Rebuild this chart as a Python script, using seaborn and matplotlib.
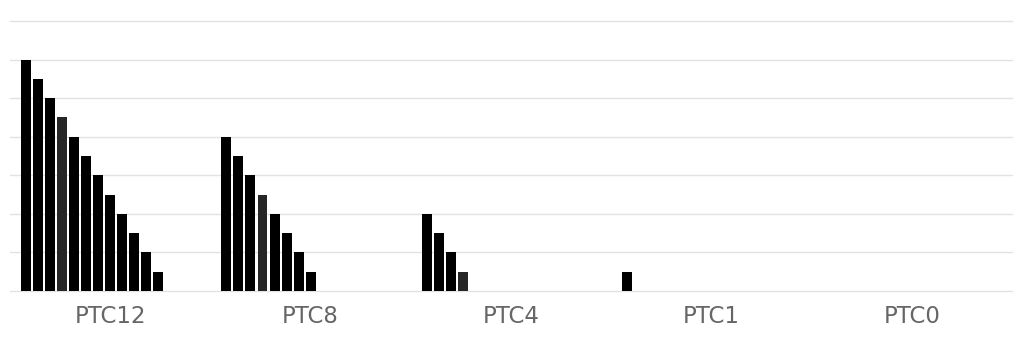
import matplotlib
matplotlib.use("Agg")
import matplotlib.pyplot as plt
import seaborn as sns
import pandas as pd

groups = ["PTC12", "PTC8", "PTC4", "PTC1", "PTC0"]
series = [f"S{i}" for i in range(1, 16)]
ptc12_values = [12, 11, 10, 9, 8, 7, 6, 5, 4, 3, 2, 1]
ptc8_values = [8, 7, 6, 5, 4, 3, 2, 1]
ptc4_values = [4, 3, 2, 1]
ptc1_values = [1]
ptc0_values = []

rows = []
for g, vals in zip(groups, [ptc12_values, ptc8_values, ptc4_values, ptc1_values, ptc0_values]):
    for s, v in zip(series, vals):
        rows.append({"group": g, "series": s, "value": v})
df = pd.DataFrame(rows)

palette = {s: "#000000" for s in series}
palette["S4"] = "#262626"

sns.set_theme(style="white")
plt.rcParams["font.family"] = ["DejaVu Sans"]

fig = plt.figure(figsize=(10.24, 3.46), dpi=100)
ax = fig.add_axes([10 / 1024, 55 / 346, 1002 / 1024, 270 / 346])

sns.barplot(data=df, x="group", y="value", hue="series", order=groups,
            hue_order=series, palette=palette, width=0.9, gap=0.17,
            saturation=1, linewidth=0, legend=False, errorbar=None, ax=ax)

ax.set_ylim(0, 14)
ax.set_yticks(range(0, 15, 2))
ax.set_xlim(-0.5, 4.5)
ax.yaxis.grid(True, color="#e2e2e2", linewidth=1)
for gl in ax.get_ygridlines():
    gl.set_clip_on(False)
ax.set_axisbelow(True)
for sp in ax.spines.values():
    sp.set_visible(False)
ax.set_yticklabels([])
ax.tick_params(axis="y", length=0)
ax.tick_params(axis="x", length=0, pad=10, labelsize=16.5, labelcolor="#666666")
ax.set_xlabel("")
ax.set_ylabel("")

fig.savefig("out.png", dpi=100)
